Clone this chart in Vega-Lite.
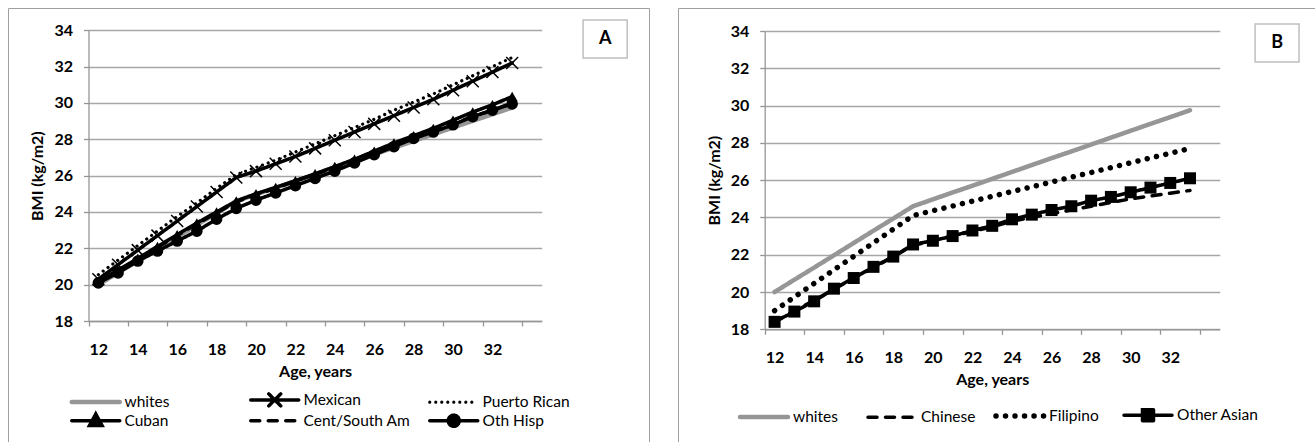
{
  "$schema": "https://vega.github.io/schema/vega-lite/v6.json",
  "padding": {"left": 7, "top": 7, "right": 0, "bottom": 0},
  "spacing": 27,
  "config": {
    "font": "Lato",
    "view": {"stroke": "#a0a0a0", "strokeWidth": 1},
    "axis": {"labelFont": "Lato", "labelFontSize": 16, "labelFontWeight": "bold", "labelColor": "#000", "titleFont": "Lato", "titleFontSize": 16, "titleFontWeight": "bold", "titleColor": "#000", "domainColor": "#969696", "domainWidth": 1.3, "tickColor": "#969696", "tickWidth": 1.3, "tickSize": 5, "gridColor": "#a6a6a6", "gridWidth": 1.3, "labelFlush": false, "labelOverlap": false},
    "legend": {"labelFont": "Lato", "labelFontSize": 15.5, "labelColor": "#000", "symbolSize": 100, "labelOffset": 21}
  },
  "datasets": {
    "A": [
      {"age": 12, "whites": 20.0, "Mexican": 20.3, "Puerto Rican": 20.55, "Cuban": 20.2, "Cent/South Am": 20.1, "Oth Hisp": 20.1},
      {"age": 13, "whites": 20.66, "Mexican": 21.1, "Puerto Rican": 21.35, "Cuban": 20.8, "Cent/South Am": 20.75, "Oth Hisp": 20.65},
      {"age": 14, "whites": 21.31, "Mexican": 21.9, "Puerto Rican": 22.15, "Cuban": 21.45, "Cent/South Am": 21.4, "Oth Hisp": 21.3},
      {"age": 15, "whites": 21.97, "Mexican": 22.7, "Puerto Rican": 22.95, "Cuban": 22.1, "Cent/South Am": 22.05, "Oth Hisp": 21.85},
      {"age": 16, "whites": 22.63, "Mexican": 23.5, "Puerto Rican": 23.75, "Cuban": 22.75, "Cent/South Am": 22.7, "Oth Hisp": 22.4},
      {"age": 17, "whites": 23.29, "Mexican": 24.3, "Puerto Rican": 24.5, "Cuban": 23.4, "Cent/South Am": 23.35, "Oth Hisp": 22.95},
      {"age": 18, "whites": 23.94, "Mexican": 25.1, "Puerto Rican": 25.3, "Cuban": 24.0, "Cent/South Am": 23.95, "Oth Hisp": 23.6},
      {"age": 19, "whites": 24.6, "Mexican": 25.9, "Puerto Rican": 26.05, "Cuban": 24.6, "Cent/South Am": 24.55, "Oth Hisp": 24.2},
      {"age": 20, "whites": 24.97, "Mexican": 26.25, "Puerto Rican": 26.45, "Cuban": 25.0, "Cent/South Am": 24.95, "Oth Hisp": 24.65},
      {"age": 21, "whites": 25.34, "Mexican": 26.65, "Puerto Rican": 26.85, "Cuban": 25.35, "Cent/South Am": 25.3, "Oth Hisp": 25.05},
      {"age": 22, "whites": 25.7, "Mexican": 27.05, "Puerto Rican": 27.3, "Cuban": 25.72, "Cent/South Am": 25.7, "Oth Hisp": 25.45},
      {"age": 23, "whites": 26.07, "Mexican": 27.5, "Puerto Rican": 27.75, "Cuban": 26.1, "Cent/South Am": 26.07, "Oth Hisp": 25.85},
      {"age": 24, "whites": 26.44, "Mexican": 27.95, "Puerto Rican": 28.2, "Cuban": 26.5, "Cent/South Am": 26.45, "Oth Hisp": 26.25},
      {"age": 25, "whites": 26.81, "Mexican": 28.4, "Puerto Rican": 28.65, "Cuban": 26.9, "Cent/South Am": 26.85, "Oth Hisp": 26.7},
      {"age": 26, "whites": 27.18, "Mexican": 28.85, "Puerto Rican": 29.1, "Cuban": 27.35, "Cent/South Am": 27.25, "Oth Hisp": 27.15},
      {"age": 27, "whites": 27.54, "Mexican": 29.3, "Puerto Rican": 29.6, "Cuban": 27.8, "Cent/South Am": 27.65, "Oth Hisp": 27.6},
      {"age": 28, "whites": 27.91, "Mexican": 29.75, "Puerto Rican": 30.05, "Cuban": 28.2, "Cent/South Am": 28.05, "Oth Hisp": 28.05},
      {"age": 29, "whites": 28.28, "Mexican": 30.2, "Puerto Rican": 30.5, "Cuban": 28.6, "Cent/South Am": 28.45, "Oth Hisp": 28.4},
      {"age": 30, "whites": 28.65, "Mexican": 30.7, "Puerto Rican": 31.0, "Cuban": 29.05, "Cent/South Am": 28.85, "Oth Hisp": 28.8},
      {"age": 31, "whites": 29.02, "Mexican": 31.2, "Puerto Rican": 31.5, "Cuban": 29.5, "Cent/South Am": 29.25, "Oth Hisp": 29.25},
      {"age": 32, "whites": 29.38, "Mexican": 31.7, "Puerto Rican": 32.0, "Cuban": 29.9, "Cent/South Am": 29.6, "Oth Hisp": 29.6},
      {"age": 33, "whites": 29.75, "Mexican": 32.2, "Puerto Rican": 32.5, "Cuban": 30.35, "Cent/South Am": 30.0, "Oth Hisp": 29.95}
    ],
    "B": [
      {"age": 12, "whites": 20.0, "Chinese": 18.4, "Filipino": 19.0, "Other Asian": 18.4},
      {"age": 13, "whites": 20.66, "Chinese": 19.0, "Filipino": 19.73, "Other Asian": 18.95},
      {"age": 14, "whites": 21.31, "Chinese": 19.55, "Filipino": 20.46, "Other Asian": 19.5},
      {"age": 15, "whites": 21.97, "Chinese": 20.15, "Filipino": 21.19, "Other Asian": 20.18},
      {"age": 16, "whites": 22.63, "Chinese": 20.75, "Filipino": 21.91, "Other Asian": 20.75},
      {"age": 17, "whites": 23.29, "Chinese": 21.3, "Filipino": 22.64, "Other Asian": 21.35},
      {"age": 18, "whites": 23.94, "Chinese": 21.9, "Filipino": 23.37, "Other Asian": 21.9},
      {"age": 19, "whites": 24.6, "Chinese": 22.5, "Filipino": 24.1, "Other Asian": 22.55},
      {"age": 20, "whites": 24.97, "Chinese": 22.75, "Filipino": 24.36, "Other Asian": 22.75},
      {"age": 21, "whites": 25.34, "Chinese": 23.0, "Filipino": 24.61, "Other Asian": 23.0},
      {"age": 22, "whites": 25.7, "Chinese": 23.25, "Filipino": 24.87, "Other Asian": 23.3},
      {"age": 23, "whites": 26.07, "Chinese": 23.5, "Filipino": 25.13, "Other Asian": 23.55},
      {"age": 24, "whites": 26.44, "Chinese": 23.8, "Filipino": 25.39, "Other Asian": 23.9},
      {"age": 25, "whites": 26.81, "Chinese": 24.0, "Filipino": 25.64, "Other Asian": 24.15},
      {"age": 26, "whites": 27.18, "Chinese": 24.2, "Filipino": 25.9, "Other Asian": 24.4},
      {"age": 27, "whites": 27.54, "Chinese": 24.4, "Filipino": 26.16, "Other Asian": 24.6},
      {"age": 28, "whites": 27.91, "Chinese": 24.6, "Filipino": 26.41, "Other Asian": 24.9},
      {"age": 29, "whites": 28.28, "Chinese": 24.8, "Filipino": 26.67, "Other Asian": 25.1},
      {"age": 30, "whites": 28.65, "Chinese": 25.0, "Filipino": 26.93, "Other Asian": 25.35},
      {"age": 31, "whites": 29.02, "Chinese": 25.15, "Filipino": 27.19, "Other Asian": 25.6},
      {"age": 32, "whites": 29.38, "Chinese": 25.3, "Filipino": 27.44, "Other Asian": 25.85},
      {"age": 33, "whites": 29.75, "Chinese": 25.45, "Filipino": 27.7, "Other Asian": 26.1}
    ],
    "labA": [{"t": "A", "x": 37.72, "y": 33.52, "x0": 36.6, "x1": 38.84, "y0": 32.475, "y1": 34.565}],
    "labB": [{"t": "B", "x": 37.4, "y": 33.356, "x0": 36.29, "x1": 38.51, "y0": 32.34, "y1": 34.38}]
  },
  "resolve": {
    "scale": {"color": "independent", "strokeDash": "independent", "strokeWidth": "independent", "x": "independent", "y": "independent"},
    "legend": {"color": "independent"}
  },
  "hconcat": [
    {
      "width": 641,
      "height": 434,
      "layer": [
        {
          "data": {"name": "A"},
          "transform": [{"fold": ["whites", "Mexican", "Puerto Rican", "Cuban", "Cent/South Am", "Oth Hisp"], "as": ["series", "bmi"]}],
          "mark": {"type": "line", "strokeCap": "round", "strokeJoin": "round"},
          "encoding": {
            "x": {"field": "age", "type": "quantitative", "scale": {"domain": [11.5, 34.5], "range": [80.5, 533.7], "nice": false, "zero": false},
              "axis": {"title": "Age, years", "offset": -121, "values": [12, 14, 16, 18, 20, 22, 24, 26, 28, 30, 32, 34], "tickOffset": -9.85, "labelOffset": 9.85, "labelExpr": "datum.value == 34 ? '' : datum.label", "labelPadding": 15, "titlePadding": 6, "grid": false}},
            "y": {"field": "bmi", "type": "quantitative", "scale": {"domain": [18, 34], "range": [313, 22.3], "nice": false, "zero": false},
              "axis": {"title": "BMI (kg/m2)", "offset": -80.5, "values": [18, 20, 22, 24, 26, 28, 30, 32, 34], "labelPadding": 11, "titlePadding": 8, "grid": true}},
            "color": {"field": "series", "type": "nominal",
              "scale": {"domain": ["whites", "Mexican", "Puerto Rican", "Cuban", "Cent/South Am", "Oth Hisp"], "range": ["#969696", "#000000", "#000000", "#000000", "#000000", "#000000"]},
              "legend": {"title": null, "orient": "none", "direction": "horizontal", "legendX": 80, "legendY": 384, "columns": 3, "gridAlign": "all", "columnPadding": 11, "rowPadding": -8,
                "encode": {"symbols": {"update": {
                  "shape": {"signal": "datum.value==='Mexican' ? 'M-4.8,0H4.8M-1.2,-1.2L1.2,1.2M-1.2,1.2L1.2,-1.2' : datum.value==='Cuban' ? 'M-4.8,0H4.8M0,-1.35L1.25,0.95L-1.25,0.95Z' : datum.value==='Oth Hisp' ? 'M-4.8,0H4.8M1.1,0A1.1,1.1 0 1,1 -1.1,0A1.1,1.1 0 1,1 1.1,0Z' : 'M-4.8,0H4.8'"},
                  "fill": {"signal": "datum.value==='Cuban' || datum.value==='Oth Hisp' ? '#000000' : 'transparent'"},
                  "stroke": {"signal": "datum.value==='whites' ? '#969696' : '#000000'"},
                  "strokeWidth": {"signal": "datum.value==='whites' ? 4.5 : datum.value==='Puerto Rican' ? 3 : 3.5"},
                  "strokeDash": {"signal": "datum.value==='Puerto Rican' ? [0.01, 6.5] : datum.value==='Cent/South Am' ? [9, 8.5] : [1, 0]"},
                  "strokeCap": {"value": "round"},
                  "opacity": {"value": 1}
                }}}}},
            "strokeDash": {"field": "series", "type": "nominal", "legend": null,
              "scale": {"domain": ["whites", "Mexican", "Puerto Rican", "Cuban", "Cent/South Am", "Oth Hisp"], "range": [[1, 0], [1, 0], [0.01, 6], [1, 0], [9, 8.5], [1, 0]]}},
            "strokeWidth": {"field": "series", "type": "nominal", "legend": null,
              "scale": {"type": "ordinal", "domain": ["whites", "Mexican", "Puerto Rican", "Cuban", "Cent/South Am", "Oth Hisp"], "range": [4.5, 3.5, 3.2, 3.5, 3.5, 3.5]}}
          }
        },
        {
          "data": {"name": "A"},
          "mark": {"type": "point", "shape": "M-1,-1L1,1M-1,1L1,-1", "filled": false, "stroke": "#000000", "strokeWidth": 1.5, "size": 144, "opacity": 1},
          "encoding": {"x": {"field": "age", "type": "quantitative"}, "y": {"field": "Mexican", "type": "quantitative"}}
        },
        {
          "data": {"name": "A"},
          "mark": {"type": "point", "shape": "triangle-up", "filled": true, "color": "#000000", "size": 120, "opacity": 1},
          "encoding": {"x": {"field": "age", "type": "quantitative"}, "y": {"field": "Cuban", "type": "quantitative"}}
        },
        {
          "data": {"name": "A"},
          "mark": {"type": "point", "shape": "circle", "filled": true, "color": "#000000", "size": 135, "opacity": 1},
          "encoding": {"x": {"field": "age", "type": "quantitative"}, "y": {"field": "Oth Hisp", "type": "quantitative"}}
        },
        {
          "data": {"name": "labA"},
          "mark": {"type": "rect", "fill": "#ffffff", "stroke": "#bfbfbf", "strokeWidth": 1.5},
          "encoding": {"x": {"field": "x0", "type": "quantitative"}, "x2": {"field": "x1"}, "y": {"field": "y0", "type": "quantitative"}, "y2": {"field": "y1"}}
        },
        {
          "data": {"name": "labA"},
          "mark": {"type": "text", "font": "Lato", "fontWeight": "bold", "fontSize": 18, "align": "center", "baseline": "middle", "color": "#000000"},
          "encoding": {"x": {"field": "x", "type": "quantitative"}, "y": {"field": "y", "type": "quantitative"}, "text": {"field": "t"}}
        }
      ]
    },
    {
      "width": 640,
      "height": 434,
      "layer": [
        {
          "data": {"name": "B"},
          "transform": [{"fold": ["whites", "Chinese", "Filipino", "Other Asian"], "as": ["series", "bmi"]}],
          "mark": {"type": "line", "strokeCap": "round", "strokeJoin": "round"},
          "encoding": {
            "x": {"field": "age", "type": "quantitative", "scale": {"domain": [11.5, 34.5], "range": [86.7, 541.7], "nice": false, "zero": false},
              "axis": {"title": "Age, years", "offset": -112.7, "values": [12, 14, 16, 18, 20, 22, 24, 26, 28, 30, 32, 34], "tickOffset": -9.9, "labelOffset": 9.9, "labelExpr": "datum.value == 34 ? '' : datum.label", "labelPadding": 15, "titlePadding": 6, "grid": false}},
            "y": {"field": "bmi", "type": "quantitative", "scale": {"domain": [18, 34], "range": [321.3, 23], "nice": false, "zero": false},
              "axis": {"title": "BMI (kg/m2)", "offset": -86.7, "values": [18, 20, 22, 24, 26, 28, 30, 32, 34], "labelPadding": 11, "titlePadding": 8, "grid": true}},
            "color": {"field": "series", "type": "nominal",
              "scale": {"domain": ["whites", "Chinese", "Filipino", "Other Asian"], "range": ["#969696", "#000000", "#000000", "#000000"]},
              "legend": {"title": null, "orient": "none", "direction": "horizontal", "legendX": 78, "legendY": 399, "columns": 4, "gridAlign": "all", "columnPadding": -18,
                "encode": {"symbols": {"update": {
                  "shape": {"signal": "datum.value==='Other Asian' ? 'M-4.8,0H4.8M-1.1,-1.1H1.1V1.1H-1.1Z' : 'M-4.8,0H4.8'"},
                  "fill": {"signal": "datum.value==='Other Asian' ? '#000000' : 'transparent'"},
                  "stroke": {"signal": "datum.value==='whites' ? '#969696' : '#000000'"},
                  "strokeWidth": {"signal": "datum.value==='whites' ? 4.5 : datum.value==='Filipino' ? 5.5 : 3.5"},
                  "strokeDash": {"signal": "datum.value==='Filipino' ? [0.01, 9.5] : datum.value==='Chinese' ? [9, 8.5] : [1, 0]"},
                  "strokeCap": {"value": "round"},
                  "opacity": {"value": 1}
                }}}}},
            "strokeDash": {"field": "series", "type": "nominal", "legend": null,
              "scale": {"domain": ["whites", "Chinese", "Filipino", "Other Asian"], "range": [[1, 0], [9, 8.5], [0.01, 9.5], [1, 0]]}},
            "strokeWidth": {"field": "series", "type": "nominal", "legend": null,
              "scale": {"type": "ordinal", "domain": ["whites", "Chinese", "Filipino", "Other Asian"], "range": [4.5, 3.5, 5.5, 3.5]}}
          }
        },
        {
          "data": {"name": "B"},
          "mark": {"type": "point", "shape": "square", "filled": true, "color": "#000000", "size": 144, "opacity": 1},
          "encoding": {"x": {"field": "age", "type": "quantitative"}, "y": {"field": "Other Asian", "type": "quantitative"}}
        },
        {
          "data": {"name": "labB"},
          "mark": {"type": "rect", "fill": "#ffffff", "stroke": "#bfbfbf", "strokeWidth": 1.5},
          "encoding": {"x": {"field": "x0", "type": "quantitative"}, "x2": {"field": "x1"}, "y": {"field": "y0", "type": "quantitative"}, "y2": {"field": "y1"}}
        },
        {
          "data": {"name": "labB"},
          "mark": {"type": "text", "font": "Lato", "fontWeight": "bold", "fontSize": 18, "align": "center", "baseline": "middle", "color": "#000000"},
          "encoding": {"x": {"field": "x", "type": "quantitative"}, "y": {"field": "y", "type": "quantitative"}, "text": {"field": "t"}}
        }
      ]
    }
  ]
}
